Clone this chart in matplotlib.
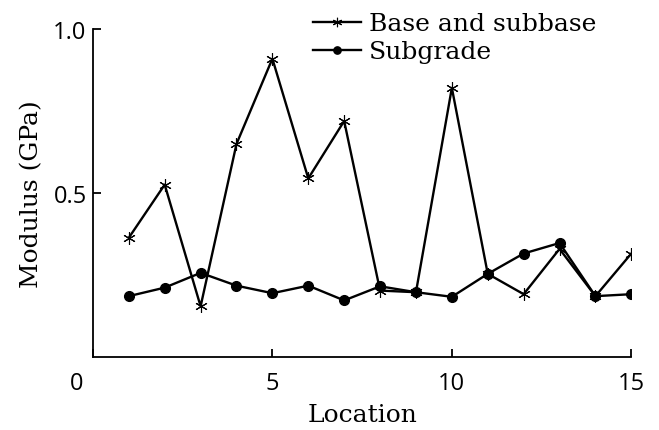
import matplotlib.pyplot as plt
from matplotlib.transforms import ScaledTranslation

location = list(range(1, 16))
base_subbase = [0.364, 0.526, 0.155, 0.650, 0.910, 0.545, 0.720, 0.203,
                0.198, 0.821, 0.254, 0.192, 0.330, 0.186, 0.316]
subgrade = [0.186, 0.212, 0.257, 0.218, 0.195, 0.218, 0.173, 0.216,
            0.198, 0.184, 0.254, 0.316, 0.348, 0.186, 0.192]

plt.rcParams["font.family"] = "DejaVu Serif"
plt.rcParams["font.size"] = 18

fig = plt.figure(figsize=(6.59, 4.31), dpi=100)
ax = fig.add_axes([0.141, 0.169, 0.817, 0.761])

ax.plot(location, base_subbase, color="black", lw=1.7, marker=(6, 2, 0),
        markersize=9, markeredgewidth=0.8, label="Base and subbase")
ax.plot(location, subgrade, color="black", lw=1.7, marker="o",
        markersize=7, label="Subgrade")

ax.set_xlim(0, 15)
ax.set_ylim(0, 1.0)
ax.set_xticks([0, 5, 10, 15])
ax.set_yticks([0.5, 1.0])
ax.set_yticklabels(["0.5", "1.0"])
ax.tick_params(direction="in", length=6, width=1.3, labelsize=17)
ax.tick_params(axis="x", pad=10)
ax.tick_params(axis="y", pad=4.5)
for lab in ax.get_xticklabels() + ax.get_yticklabels():
    lab.set_fontfamily("Open Sans")
# origin label sits a bit left of the corner
zero = ax.get_xticklabels()[0]
zero.set_transform(zero.get_transform() + ScaledTranslation(-0.16, 0, fig.dpi_scale_trans))

for s in ["top", "right"]:
    ax.spines[s].set_visible(False)
for s in ["left", "bottom"]:
    ax.spines[s].set_linewidth(1.3)

ax.set_xlabel("Location", labelpad=6)
ax.set_ylabel("Modulus (GPa)", labelpad=7)

ax.legend(loc="upper left", bbox_to_anchor=(313 / 659, 0.969), bbox_transform=fig.transFigure,
          frameon=False, handlelength=1.9, handletextpad=0.33, labelspacing=0.2,
          borderpad=0, borderaxespad=0, markerscale=0.75)

fig.savefig("out.png", dpi=100)
